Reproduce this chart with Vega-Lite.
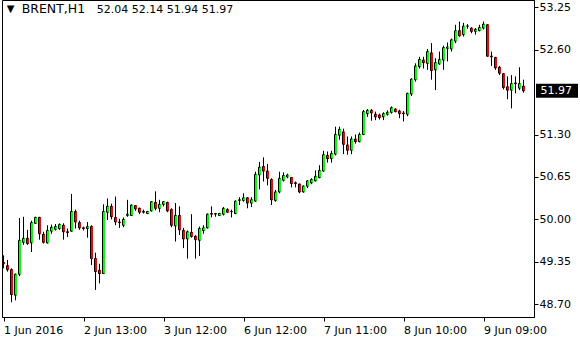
{
  "$schema": "https://vega.github.io/schema/vega-lite/v6.json",
  "width": 532,
  "height": 317,
  "padding": {"left": 2, "top": 0, "right": 46, "bottom": 23},
  "autosize": {"type": "none"},
  "background": "white",
  "config": {
    "view": {"stroke": "black", "strokeWidth": 1},
    "font": "DejaVu Sans",
    "axis": {"labelFont": "DejaVu Sans", "labelFontSize": 11, "labelColor": "black", "tickColor": "black", "domainColor": "black", "grid": false, "title": null}
  },
  "data": {"values": [
    {"i":0,"o":49.34,"h":49.45,"l":49.25,"c":49.32},
    {"i":1,"o":49.29,"h":49.38,"l":49.20,"c":49.23},
    {"i":2,"o":49.23,"h":49.25,"l":48.73,"c":48.85},
    {"i":3,"o":48.84,"h":49.17,"l":48.76,"c":49.16},
    {"i":4,"o":49.16,"h":50.02,"l":49.13,"c":49.68},
    {"i":5,"o":49.65,"h":50.04,"l":49.61,"c":49.71},
    {"i":6,"o":49.71,"h":49.84,"l":49.61,"c":49.63},
    {"i":7,"o":49.64,"h":49.98,"l":49.50,"c":49.95},
    {"i":8,"o":49.94,"h":50.04,"l":49.93,"c":50.03},
    {"i":9,"o":50.03,"h":50.04,"l":49.69,"c":49.78},
    {"i":10,"o":49.77,"h":49.81,"l":49.63,"c":49.65},
    {"i":11,"o":49.64,"h":49.91,"l":49.63,"c":49.83},
    {"i":12,"o":49.82,"h":49.92,"l":49.78,"c":49.88},
    {"i":13,"o":49.85,"h":49.93,"l":49.83,"c":49.89},
    {"i":14,"o":49.86,"h":49.94,"l":49.84,"c":49.92},
    {"i":15,"o":49.91,"h":49.94,"l":49.69,"c":49.81},
    {"i":16,"o":49.81,"h":49.86,"l":49.73,"c":49.80},
    {"i":17,"o":49.82,"h":50.39,"l":49.81,"c":50.12},
    {"i":18,"o":50.12,"h":50.15,"l":49.86,"c":49.96},
    {"i":19,"o":49.95,"h":49.98,"l":49.84,"c":49.87},
    {"i":20,"o":49.87,"h":49.89,"l":49.83,"c":49.86},
    {"i":21,"o":49.86,"h":49.96,"l":49.72,"c":49.89},
    {"i":22,"o":49.89,"h":49.91,"l":49.30,"c":49.40},
    {"i":23,"o":49.40,"h":49.49,"l":48.92,"c":49.20},
    {"i":24,"o":49.22,"h":49.32,"l":49.02,"c":49.17},
    {"i":25,"o":49.17,"h":50.23,"l":49.17,"c":50.12},
    {"i":26,"o":50.11,"h":50.32,"l":49.99,"c":50.20},
    {"i":27,"o":50.20,"h":50.24,"l":50.00,"c":50.04},
    {"i":28,"o":50.03,"h":50.35,"l":49.91,"c":49.96},
    {"i":29,"o":49.96,"h":50.01,"l":49.87,"c":49.95},
    {"i":30,"o":49.91,"h":50.03,"l":49.88,"c":50.00},
    {"i":31,"o":50.06,"h":50.30,"l":50.04,"c":50.08},
    {"i":32,"o":50.06,"h":50.23,"l":50.05,"c":50.22},
    {"i":33,"o":50.21,"h":50.22,"l":50.13,"c":50.16},
    {"i":34,"o":50.17,"h":50.18,"l":50.08,"c":50.11},
    {"i":35,"o":50.12,"h":50.15,"l":50.09,"c":50.11},
    {"i":36,"o":50.09,"h":50.13,"l":50.08,"c":50.12},
    {"i":37,"o":50.13,"h":50.28,"l":50.12,"c":50.27},
    {"i":38,"o":50.26,"h":50.43,"l":50.14,"c":50.17},
    {"i":39,"o":50.17,"h":50.30,"l":50.11,"c":50.23},
    {"i":40,"o":50.23,"h":50.28,"l":50.20,"c":50.27},
    {"i":41,"o":50.26,"h":50.27,"l":50.11,"c":50.13},
    {"i":42,"o":50.15,"h":50.17,"l":49.88,"c":49.91},
    {"i":43,"o":49.90,"h":50.25,"l":49.66,"c":50.06},
    {"i":44,"o":50.06,"h":50.20,"l":49.76,"c":49.84},
    {"i":45,"o":49.83,"h":49.87,"l":49.56,"c":49.70},
    {"i":46,"o":49.70,"h":49.83,"l":49.40,"c":49.81},
    {"i":47,"o":49.80,"h":50.08,"l":49.72,"c":49.74},
    {"i":48,"o":49.74,"h":49.76,"l":49.40,"c":49.69},
    {"i":49,"o":49.68,"h":49.89,"l":49.44,"c":49.86},
    {"i":50,"o":49.83,"h":49.91,"l":49.78,"c":49.87},
    {"i":51,"o":49.87,"h":50.09,"l":49.86,"c":50.08},
    {"i":52,"o":50.09,"h":50.20,"l":50.03,"c":50.08},
    {"i":53,"o":50.08,"h":50.10,"l":50.04,"c":50.09},
    {"i":54,"o":50.06,"h":50.10,"l":50.05,"c":50.09},
    {"i":55,"o":50.08,"h":50.19,"l":50.06,"c":50.17},
    {"i":56,"o":50.15,"h":50.17,"l":50.10,"c":50.11},
    {"i":57,"o":50.12,"h":50.15,"l":50.03,"c":50.12},
    {"i":58,"o":50.09,"h":50.29,"l":50.08,"c":50.28},
    {"i":59,"o":50.29,"h":50.34,"l":50.22,"c":50.30},
    {"i":60,"o":50.29,"h":50.40,"l":50.27,"c":50.33},
    {"i":61,"o":50.33,"h":50.34,"l":50.17,"c":50.25},
    {"i":62,"o":50.25,"h":50.34,"l":50.19,"c":50.30},
    {"i":63,"o":50.28,"h":50.73,"l":50.27,"c":50.69},
    {"i":64,"o":50.68,"h":50.88,"l":50.46,"c":50.80},
    {"i":65,"o":50.81,"h":50.95,"l":50.58,"c":50.74},
    {"i":66,"o":50.74,"h":50.85,"l":50.52,"c":50.63},
    {"i":67,"o":50.61,"h":50.63,"l":50.22,"c":50.30},
    {"i":68,"o":50.29,"h":50.45,"l":50.27,"c":50.42},
    {"i":69,"o":50.42,"h":50.73,"l":50.40,"c":50.63},
    {"i":70,"o":50.60,"h":50.72,"l":50.58,"c":50.67},
    {"i":71,"o":50.65,"h":50.70,"l":50.63,"c":50.68},
    {"i":72,"o":50.64,"h":50.65,"l":50.49,"c":50.55},
    {"i":73,"o":50.56,"h":50.58,"l":50.49,"c":50.55},
    {"i":74,"o":50.54,"h":50.55,"l":50.40,"c":50.42},
    {"i":75,"o":50.42,"h":50.52,"l":50.41,"c":50.51},
    {"i":76,"o":50.51,"h":50.60,"l":50.48,"c":50.59},
    {"i":77,"o":50.56,"h":50.63,"l":50.54,"c":50.61},
    {"i":78,"o":50.59,"h":50.75,"l":50.58,"c":50.66},
    {"i":79,"o":50.64,"h":50.83,"l":50.63,"c":50.75},
    {"i":80,"o":50.74,"h":51.05,"l":50.73,"c":50.99},
    {"i":81,"o":50.98,"h":51.04,"l":50.87,"c":50.93},
    {"i":82,"o":50.93,"h":51.05,"l":50.87,"c":51.01},
    {"i":83,"o":51.00,"h":51.42,"l":50.98,"c":51.30},
    {"i":84,"o":51.29,"h":51.42,"l":51.22,"c":51.38},
    {"i":85,"o":51.34,"h":51.39,"l":51.00,"c":51.15},
    {"i":86,"o":51.14,"h":51.27,"l":50.99,"c":51.06},
    {"i":87,"o":51.06,"h":51.27,"l":51.00,"c":51.23},
    {"i":88,"o":51.23,"h":51.30,"l":51.16,"c":51.19},
    {"i":89,"o":51.19,"h":51.33,"l":51.18,"c":51.30},
    {"i":90,"o":51.30,"h":51.675,"l":51.29,"c":51.65},
    {"i":91,"o":51.62,"h":51.69,"l":51.57,"c":51.67},
    {"i":92,"o":51.67,"h":51.69,"l":51.51,"c":51.63},
    {"i":93,"o":51.61,"h":51.65,"l":51.52,"c":51.57},
    {"i":94,"o":51.60,"h":51.62,"l":51.53,"c":51.56},
    {"i":95,"o":51.57,"h":51.64,"l":51.52,"c":51.62},
    {"i":96,"o":51.61,"h":51.67,"l":51.59,"c":51.64},
    {"i":97,"o":51.64,"h":51.73,"l":51.62,"c":51.71},
    {"i":98,"o":51.69,"h":51.70,"l":51.64,"c":51.65},
    {"i":99,"o":51.66,"h":51.68,"l":51.55,"c":51.62},
    {"i":100,"o":51.63,"h":51.66,"l":51.50,"c":51.62},
    {"i":101,"o":51.61,"h":51.94,"l":51.58,"c":51.93},
    {"i":102,"o":51.92,"h":52.16,"l":51.89,"c":52.15},
    {"i":103,"o":52.14,"h":52.39,"l":52.11,"c":52.35},
    {"i":104,"o":52.34,"h":52.49,"l":52.31,"c":52.45},
    {"i":105,"o":52.44,"h":52.49,"l":52.31,"c":52.40},
    {"i":106,"o":52.39,"h":52.61,"l":52.29,"c":52.57},
    {"i":107,"o":52.55,"h":52.70,"l":52.14,"c":52.28},
    {"i":108,"o":52.29,"h":52.47,"l":51.98,"c":52.40},
    {"i":109,"o":52.38,"h":52.57,"l":52.37,"c":52.45},
    {"i":110,"o":52.44,"h":52.66,"l":52.29,"c":52.63},
    {"i":111,"o":52.62,"h":52.71,"l":52.42,"c":52.64},
    {"i":112,"o":52.61,"h":52.77,"l":52.57,"c":52.75},
    {"i":113,"o":52.73,"h":52.98,"l":52.70,"c":52.89},
    {"i":114,"o":52.89,"h":53.03,"l":52.80,"c":52.81},
    {"i":115,"o":52.83,"h":53.01,"l":52.80,"c":52.96},
    {"i":116,"o":52.96,"h":52.99,"l":52.92,"c":52.96},
    {"i":117,"o":52.93,"h":52.94,"l":52.85,"c":52.88},
    {"i":118,"o":52.88,"h":52.93,"l":52.83,"c":52.91},
    {"i":119,"o":52.89,"h":52.98,"l":52.88,"c":52.94},
    {"i":120,"o":52.93,"h":53.03,"l":52.91,"c":52.99},
    {"i":121,"o":52.98,"h":52.99,"l":52.49,"c":52.50},
    {"i":122,"o":52.50,"h":52.57,"l":52.35,"c":52.49},
    {"i":123,"o":52.48,"h":52.49,"l":52.29,"c":52.32},
    {"i":124,"o":52.33,"h":52.35,"l":52.21,"c":52.24},
    {"i":125,"o":52.23,"h":52.24,"l":51.99,"c":52.02},
    {"i":126,"o":52.03,"h":52.19,"l":51.84,"c":51.98},
    {"i":127,"o":51.98,"h":52.21,"l":51.70,"c":52.08},
    {"i":128,"o":52.09,"h":52.19,"l":51.93,"c":52.08},
    {"i":129,"o":52.01,"h":52.33,"l":51.98,"c":52.08},
    {"i":130,"o":52.04,"h":52.14,"l":51.94,"c":51.97}
  ]},
  "layer": [
    {
      "mark": {"type": "rule", "color": "black", "strokeWidth": 1},
      "encoding": {
        "x": {"field": "i", "type": "quantitative",
              "scale": {"domain": [-0.375, 132.625], "nice": false, "zero": false, "padding": 0},
              "axis": {"values": [0, 20, 40, 60, 80, 100, 120],
                       "labelExpr": "datum.value == 0 ? '1 Jun 2016' : datum.value == 20 ? '2 Jun 13:00' : datum.value == 40 ? '3 Jun 12:00' : datum.value == 60 ? '6 Jun 12:00' : datum.value == 80 ? '7 Jun 11:00' : datum.value == 100 ? '8 Jun 10:00' : '9 Jun 09:00'",
                       "tickSize": 4, "labelAlign": "left", "labelBaseline": "alphabetic", "labelPadding": 12, "labelFlush": false, "labelOverlap": false}},
        "y": {"field": "l", "type": "quantitative",
              "scale": {"domain": [48.505, 53.36], "nice": false, "zero": false, "padding": 0},
              "axis": {"orient": "right", "values": [48.7, 49.35, 50, 50.65, 51.3, 52.6, 53.25], "format": ".2f",
                       "tickSize": 4, "labelPadding": 1, "labelAlign": "left", "labelBaseline": "middle"}},
        "y2": {"field": "h"}
      }
    },
    {
      "mark": {"type": "bar", "size": 2, "stroke": "black", "strokeWidth": 1},
      "encoding": {
        "x": {"field": "i", "type": "quantitative"},
        "y": {"field": "o", "type": "quantitative"},
        "y2": {"field": "c"},
        "fill": {"condition": {"test": "datum.c >= datum.o", "value": "#00ff00"}, "value": "#ff0000"}
      }
    },
    {
      "mark": {"type": "bar", "size": 1, "xOffset": 1, "strokeWidth": 0},
      "encoding": {
        "x": {"field": "i", "type": "quantitative"},
        "y": {"field": "o", "type": "quantitative"},
        "y2": {"field": "c"},
        "fill": {"condition": {"test": "datum.c >= datum.o", "value": "#00ff00"}, "value": "#ff0000"}
      }
    },
    {
      "transform": [{"filter": "datum.i == 130"}],
      "mark": {"type": "rule", "color": "black", "strokeWidth": 14},
      "encoding": {
        "x": {"datum": 133.125, "type": "quantitative"},
        "x2": {"datum": 143.625},
        "y": {"field": "c", "type": "quantitative"}
      }
    },
    {
      "transform": [{"filter": "datum.i == 130"}],
      "mark": {"type": "text", "color": "white", "fontSize": 11, "font": "DejaVu Sans", "align": "left", "baseline": "middle"},
      "encoding": {
        "x": {"datum": 134.25, "type": "quantitative"},
        "y": {"field": "c", "type": "quantitative"},
        "text": {"field": "c", "type": "quantitative", "format": ".2f"}
      }
    },
    {
      "transform": [{"filter": "datum.i == 130"}],
      "mark": {"type": "text", "text": "▼", "color": "black", "fontSize": 10, "font": "DejaVu Sans", "align": "center", "baseline": "alphabetic"},
      "encoding": {
        "x": {"datum": 1.75, "type": "quantitative"},
        "y": {"datum": 53.17, "type": "quantitative"}
      }
    },
    {
      "transform": [{"filter": "datum.i == 130"}],
      "mark": {"type": "text", "text": "BRENT,H1", "color": "black", "fontSize": 12.5, "font": "DejaVu Sans", "align": "left", "baseline": "alphabetic"},
      "encoding": {
        "x": {"datum": 4.55, "type": "quantitative"},
        "y": {"datum": 53.161, "type": "quantitative"}
      }
    },
    {
      "transform": [{"filter": "datum.i == 130"}],
      "mark": {"type": "text", "text": "52.04 52.14 51.94 51.97", "color": "black", "fontSize": 11, "font": "DejaVu Sans", "align": "left", "baseline": "alphabetic"},
      "encoding": {
        "x": {"datum": 23.3, "type": "quantitative"},
        "y": {"datum": 53.161, "type": "quantitative"}
      }
    }
  ]
}
